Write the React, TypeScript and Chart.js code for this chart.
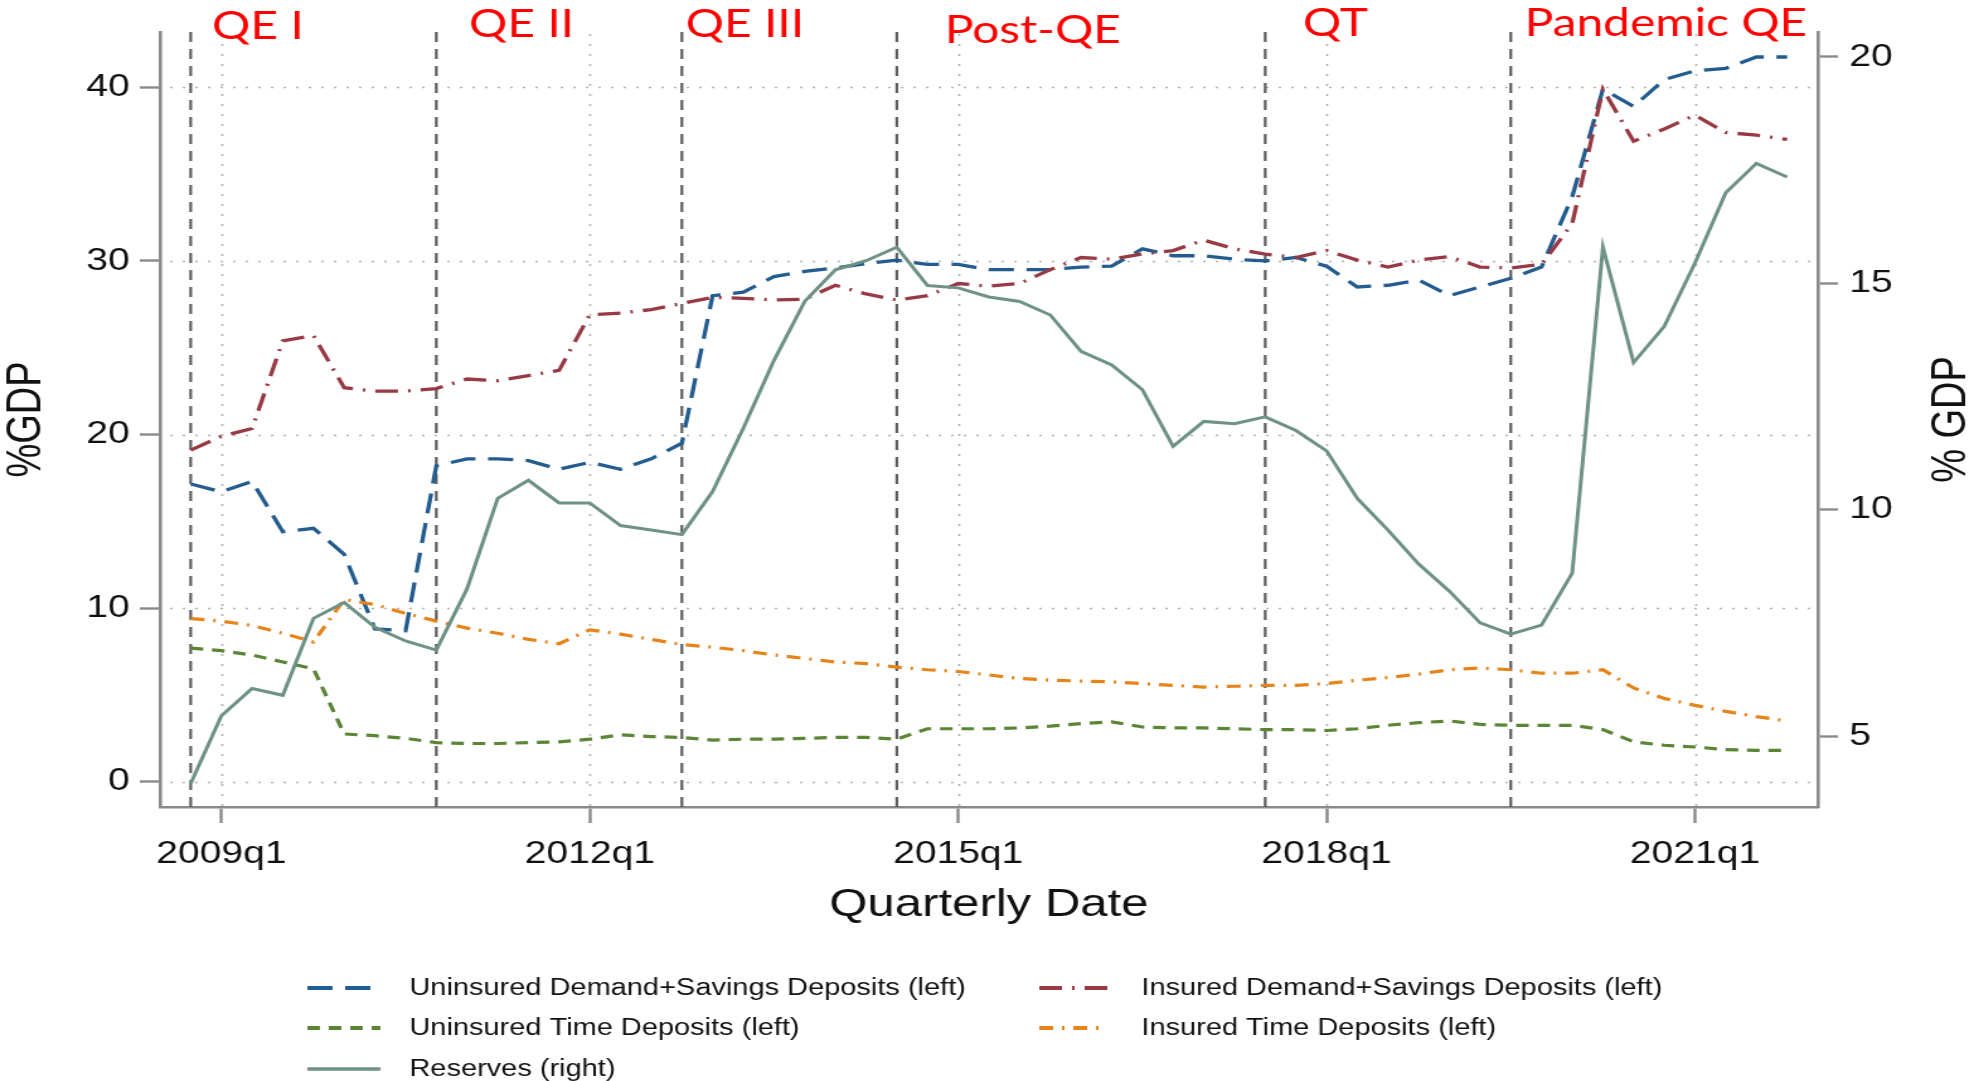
import React, { useEffect, useRef } from "react";
import { Chart, registerables } from "chart.js";

Chart.register(...registerables);

// ---------------- data ----------------
const quarters = [
  "2008q4",
  "2009q1", "2009q2", "2009q3", "2009q4",
  "2010q1", "2010q2", "2010q3", "2010q4",
  "2011q1", "2011q2", "2011q3", "2011q4",
  "2012q1", "2012q2", "2012q3", "2012q4",
  "2013q1", "2013q2", "2013q3", "2013q4",
  "2014q1", "2014q2", "2014q3", "2014q4",
  "2015q1", "2015q2", "2015q3", "2015q4",
  "2016q1", "2016q2", "2016q3", "2016q4",
  "2017q1", "2017q2", "2017q3", "2017q4",
  "2018q1", "2018q2", "2018q3", "2018q4",
  "2019q1", "2019q2", "2019q3", "2019q4",
  "2020q1", "2020q2", "2020q3", "2020q4",
  "2021q1", "2021q2", "2021q3", "2021q4",
];

const uninsuredDemandSavings = [
  17.15, 16.7, 17.3, 14.4, 14.6, 13.1, 8.8, 8.7, 18.2, 18.6, 18.6, 18.5, 18.0,
  18.4, 18.0, 18.6, 19.5, 28.0, 28.2, 29.1, 29.4, 29.6, 29.85, 30.05, 29.8, 29.8,
  29.5, 29.5, 29.5, 29.65, 29.7, 30.7, 30.3, 30.3, 30.1, 30.0, 30.2, 29.7, 28.5,
  28.6, 28.9, 28.0, 28.5, 29.0, 29.65, 33.7, 39.9, 38.9, 40.45, 40.95, 41.1,
  41.75, 41.75,
];

const insuredDemandSavings = [
  19.1, 19.9, 20.35, 25.4, 25.7, 22.7, 22.5, 22.5, 22.65, 23.2, 23.1, 23.4, 23.7,
  26.9, 27.0, 27.2, 27.55, 27.9, 27.85, 27.75, 27.8, 28.6, 28.1, 27.75, 28.0,
  28.7, 28.55, 28.7, 29.5, 30.2, 30.1, 30.4, 30.6, 31.2, 30.7, 30.4, 30.2, 30.6,
  30.05, 29.65, 30.05, 30.25, 29.65, 29.6, 29.8, 32.15, 39.9, 36.9, 37.6, 38.4,
  37.4, 37.25, 37.0,
];

const uninsuredTime = [
  7.7, 7.55, 7.3, 6.9, 6.5, 2.75, 2.65, 2.5, 2.25, 2.2, 2.2, 2.25, 2.3, 2.45,
  2.7, 2.6, 2.55, 2.4, 2.45, 2.45, 2.5, 2.55, 2.55, 2.45, 3.05, 3.05, 3.05, 3.1,
  3.2, 3.35, 3.45, 3.15, 3.1, 3.1, 3.05, 3.0, 3.0, 2.95, 3.05, 3.25, 3.4, 3.5,
  3.3, 3.25, 3.25, 3.25, 3.0, 2.3, 2.1, 2.0, 1.85, 1.8, 1.8,
];

const insuredTime = [
  9.4, 9.25, 9.0, 8.55, 8.05, 10.5, 10.2, 9.7, 9.25, 8.85, 8.55, 8.2, 7.95, 8.75,
  8.5, 8.2, 7.9, 7.75, 7.55, 7.3, 7.1, 6.9, 6.8, 6.6, 6.45, 6.35, 6.15, 5.95,
  5.85, 5.8, 5.75, 5.65, 5.55, 5.45, 5.5, 5.55, 5.55, 5.65, 5.85, 6.0, 6.2, 6.45,
  6.55, 6.45, 6.25, 6.25, 6.45, 5.4, 4.8, 4.4, 4.05, 3.75, 3.5,
];

const reserves = [
  3.95, 5.45, 6.05, 5.9, 7.6, 7.95, 7.4, 7.1, 6.9, 8.25, 10.25, 10.65, 10.15,
  10.15, 9.65, 9.55, 9.45, 10.4, 11.8, 13.3, 14.6, 15.3, 15.5, 15.8, 14.95, 14.9,
  14.7, 14.6, 14.3, 13.5, 13.2, 12.65, 11.4, 11.95, 11.9, 12.05, 11.75, 11.3,
  10.25, 9.55, 8.8, 8.2, 7.5, 7.25, 7.45, 8.6, 15.8, 13.25, 14.05, 15.45, 17.0,
  17.65, 17.35,
];

const seriesLabels = [
  "Uninsured Demand+Savings Deposits (left)",
  "Insured Demand+Savings Deposits (left)",
  "Uninsured Time Deposits (left)",
  "Insured Time Deposits (left)",
  "Reserves (right)",
];

const xTickLabels = ["2009q1", "2012q1", "2015q1", "2018q1", "2021q1"];
const leftTicks = [0, 10, 20, 30, 40];
const rightTicks = [5, 10, 15, 20];

const eventQuarters = ["2008q4", "2010q4", "2012q4", "2014q3", "2017q3", "2019q3"];
const eventLabels = ["QE I", "QE II", "QE III", "Post-QE", "QT", "Pandemic QE"];

// ---------------- styles / layout ----------------
const PAGE_W = 1974;
const PAGE_H = 1081;
const STRETCH = 1.26; // the reference is horizontally stretched
const CW = Math.round(PAGE_W / STRETCH);

const seriesColors = ["#235c8f", "#983a44", "#5a8535", "#e6841a", "#6e9284"];
const seriesDash = [[20, 10], [18, 8, 2, 8], [10, 7], [11, 7, 2, 7], []];
const seriesWidth = [3.3, 3.3, 3.2, 3.2, 3.0];
const seriesAxis = ["y", "y", "y", "y", "y2"];

const labelStyle = [
  { dx: 17, y: 39 },
  { dx: 26, y: 37 },
  { dx: 3, y: 37 },
  { dx: 38, y: 43 },
  { dx: 30, y: 36 },
  { dx: 11, y: 36 },
];

const FONT = "'Liberation Sans', Arial, Helvetica, sans-serif";
const AXIS_GREY = "#8a8a8a";

const legendSymbolX = [244, 825];
const legendSymbolW = [58, 54];
const legendTextX = [325, 906];
const legendRowY = [988, 1028, 1069];

const decorPlugin = {
  id: "decor",
  beforeDraw(chart: any) {
    const { ctx, width, height } = chart;
    ctx.save();
    ctx.fillStyle = "#ffffff";
    ctx.fillRect(0, 0, width, height);
    ctx.restore();
  },
  beforeDatasetsDraw(chart: any) {
    const { ctx, chartArea: a, scales } = chart;
    const x = scales.x;
    const y = scales.y;
    ctx.save();
    // dotted grid
    ctx.strokeStyle = "#b2b2b2";
    ctx.lineWidth = 1.6;
    ctx.setLineDash([2, 8]);
    leftTicks.forEach((v) => {
      const py = Math.round(y.getPixelForValue(v)) + 0.5;
      ctx.beginPath();
      ctx.moveTo(a.left + 8, py);
      ctx.lineTo(a.right - 4, py);
      ctx.stroke();
    });
    xTickLabels.forEach((q) => {
      const px = Math.round(x.getPixelForValue(quarters.indexOf(q))) + 0.5;
      ctx.beginPath();
      ctx.moveTo(px, a.top + 2);
      ctx.lineTo(px, a.bottom);
      ctx.stroke();
    });
    // event lines
    ctx.strokeStyle = "#5e5e5e";
    ctx.lineWidth = 2.2;
    ctx.setLineDash([10, 7]);
    eventQuarters.forEach((q) => {
      const px = x.getPixelForValue(quarters.indexOf(q));
      ctx.beginPath();
      ctx.moveTo(px, a.top);
      ctx.lineTo(px, a.bottom);
      ctx.stroke();
    });
    ctx.restore();
  },
  afterDraw(chart: any) {
    const { ctx, chartArea: a, scales } = chart;
    const x = scales.x;
    ctx.save();
    // period labels
    ctx.fillStyle = "#ff0000";
    ctx.font = "38px Lato, 'Open Sans', sans-serif";
    ctx.textAlign = "left";
    ctx.textBaseline = "alphabetic";
    eventLabels.forEach((t, i) => {
      const px = x.getPixelForValue(quarters.indexOf(eventQuarters[i]));
      ctx.fillText(t, px + labelStyle[i].dx, labelStyle[i].y);
    });
    // right axis title (reads bottom to top)
    ctx.fillStyle = "#111111";
    ctx.font = `38px ${FONT}`;
    ctx.textAlign = "center";
    ctx.textBaseline = "middle";
    ctx.translate(chart.width - 17, (a.top + a.bottom) / 2);
    ctx.rotate(-Math.PI / 2);
    ctx.fillText("% GDP", 0, 0);
    ctx.setTransform(1, 0, 0, 1, 0, 0);
    // legend
    chart.data.datasets.forEach((ds: any, i: number) => {
      const col = i % 2;
      const row = Math.floor(i / 2);
      const yy = legendRowY[row];
      ctx.strokeStyle = ds.borderColor;
      ctx.lineWidth = ds.borderWidth + 0.6;
      ctx.setLineDash(ds.borderDash || []);
      ctx.lineCap = "butt";
      ctx.beginPath();
      ctx.moveTo(legendSymbolX[col], yy);
      ctx.lineTo(legendSymbolX[col] + legendSymbolW[col], yy);
      ctx.stroke();
      ctx.setLineDash([]);
      ctx.fillStyle = "#111111";
      ctx.font = `23px ${FONT}`;
      ctx.textAlign = "left";
      ctx.textBaseline = "middle";
      ctx.fillText(ds.label, legendTextX[col], yy + 1);
    });
    ctx.restore();
  },
};

export default function App() {
  const canvasRef = useRef<HTMLCanvasElement | null>(null);

  useEffect(() => {
    const canvas = canvasRef.current;
    if (!canvas) return;
    const allSeries = [
      uninsuredDemandSavings,
      insuredDemandSavings,
      uninsuredTime,
      insuredTime,
      reserves,
    ];
    const datasets = allSeries.map((vals, i) => ({
      label: seriesLabels[i],
      data: vals.map((v, k) => ({ x: k, y: v })),
      borderColor: seriesColors[i],
      backgroundColor: seriesColors[i],
      borderWidth: seriesWidth[i],
      borderDash: seriesDash[i],
      pointRadius: 0,
      pointHoverRadius: 0,
      fill: false,
      tension: 0,
      yAxisID: seriesAxis[i],
      order: allSeries.length - i,
    }));

    const xTickValues = xTickLabels.map((q) => quarters.indexOf(q));
    const tickFont = { family: FONT, size: 31 };

    const chart = new Chart(canvas, {
      type: "line",
      data: { datasets },
      plugins: [decorPlugin],
      options: {
        animation: false,
        responsive: false,
        maintainAspectRatio: false,
        devicePixelRatio: 1,
        events: [],
        layout: { padding: { top: 32, bottom: 154, left: 0, right: 0 } },
        plugins: {
          legend: { display: false },
          tooltip: { enabled: false },
          title: { display: false },
        },
        scales: {
          x: {
            type: "linear",
            position: "bottom",
            min: -1,
            max: 53,
            afterBuildTicks: (scale: any) => {
              scale.ticks = xTickValues.map((v) => ({ value: v }));
            },
            afterFit: (scale: any) => {
              scale.height = 120;
            },
            ticks: {
              autoSkip: false,
              maxRotation: 0,
              minRotation: 0,
              padding: 13,
              color: "#111111",
              font: tickFont,
              callback: (v: any) => quarters[Number(v)] ?? "",
            },
            grid: {
              drawOnChartArea: false,
              drawTicks: true,
              tickLength: 16,
              tickWidth: 2.4,
              tickColor: AXIS_GREY,
            },
            border: { display: true, color: AXIS_GREY, width: 2.6 },
            title: {
              display: true,
              text: "Quarterly Date",
              color: "#111111",
              font: { family: FONT, size: 39, lineHeight: 1 },
              padding: { top: 0, bottom: 2 },
            },
          },
          y: {
            type: "linear",
            position: "left",
            min: -1.457,
            max: 43.19,
            afterBuildTicks: (scale: any) => {
              scale.ticks = leftTicks.map((v) => ({ value: v }));
            },
            afterFit: (scale: any) => {
              scale.width = 127;
            },
            ticks: {
              padding: 8,
              color: "#111111",
              font: tickFont,
            },
            grid: {
              drawOnChartArea: false,
              drawTicks: true,
              tickLength: 16,
              tickWidth: 2.4,
              tickColor: AXIS_GREY,
            },
            border: { display: true, color: AXIS_GREY, width: 2.6 },
            title: {
              display: true,
              text: "%GDP",
              color: "#111111",
              font: { family: FONT, size: 38, lineHeight: 1 },
              padding: { top: 3, bottom: 0 },
            },
          },
          y2: {
            type: "linear",
            position: "right",
            min: 3.433,
            max: 20.552,
            afterBuildTicks: (scale: any) => {
              scale.ticks = rightTicks.map((v) => ({ value: v }));
            },
            afterFit: (scale: any) => {
              scale.width = CW - 1443;
            },
            ticks: {
              padding: 9,
              color: "#111111",
              font: tickFont,
            },
            grid: {
              drawOnChartArea: false,
              drawTicks: true,
              tickLength: 16,
              tickWidth: 2.4,
              tickColor: AXIS_GREY,
            },
            border: { display: true, color: AXIS_GREY, width: 2.6 },
            title: { display: false },
          },
        },
      } as any,
    });

    return () => {
      chart.destroy();
    };
  }, []);

  return (
    <div
      style={{
        position: "absolute",
        left: 0,
        top: 0,
        width: PAGE_W,
        height: PAGE_H,
        overflow: "hidden",
        background: "#ffffff",
      }}
    >
      <canvas
        ref={canvasRef}
        width={CW}
        height={PAGE_H}
        style={{ width: `${PAGE_W}px`, height: `${PAGE_H}px`, display: "block" }}
      />
    </div>
  );
}
